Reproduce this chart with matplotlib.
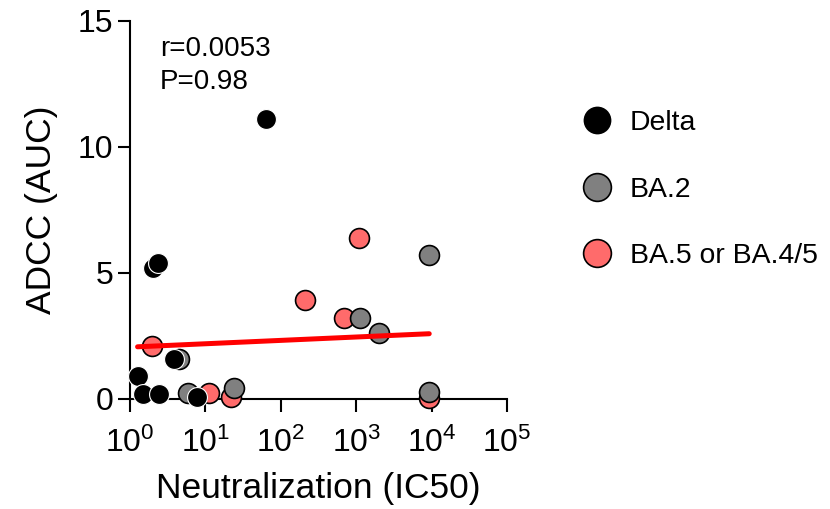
import numpy as np
import matplotlib
matplotlib.use("Agg")
import matplotlib.pyplot as plt
from matplotlib.lines import Line2D

plt.rcParams['font.family'] = ['Liberation Sans', 'DejaVu Sans']
plt.rcParams['mathtext.fontset'] = 'custom'
plt.rcParams['mathtext.rm'] = 'Liberation Sans'

# neutralization IC50 (x) vs ADCC AUC (y), per variant
delta_x = [64, 2.0, 2.35, 1.26, 1.5, 2.45, 3.84, 7.8, 9300]
delta_y = [11.1, 5.2, 5.4, 0.91, 0.2, 0.2, 1.6, 0.09, 0.08]
ba2_x = [4.5, 5.95, 24, 1125, 2000, 9200, 9100]
ba2_y = [1.57, 0.22, 0.42, 3.21, 2.6, 5.71, 0.29]
ba5_x = [1.94, 11, 22, 207, 694, 1100, 9300]
ba5_y = [2.1, 0.22, 0.09, 3.93, 3.21, 6.4, 0.03]

# linear fit in log10(x), as drawn
fit_intercept = 2.058
fit_slope = 0.134

labels = ["Delta", "BA.2", "BA.5 or BA.4/5"]
colors = ["#000000", "#808080", "#ff6b6b"]

fig = plt.figure(figsize=(8.3, 5.09), dpi=100)
ax = fig.add_axes([130/830, 1-399/509, 377/830, 378/509])

dx = np.array(delta_x); dy = np.array(delta_y)
front = dx < 1000
ms = 205
ax.scatter(dx[~front], dy[~front], s=ms, color=colors[0], edgecolor="white", linewidth=0.8, zorder=2, clip_on=False)
ax.scatter(ba5_x, ba5_y, s=ms, color=colors[2], edgecolor="black", linewidth=1.2, zorder=3, clip_on=False)
ax.scatter(ba2_x, ba2_y, s=ms, color=colors[1], edgecolor="black", linewidth=1.2, zorder=4, clip_on=False)
ax.scatter(dx[front], dy[front], s=ms, color=colors[0], edgecolor="white", linewidth=0.8, zorder=5, clip_on=False)

allx = np.array(delta_x + ba2_x + ba5_x)
fx = np.array([allx.min(), allx.max()])
ax.plot(fx, fit_intercept + fit_slope*np.log10(fx), color="#ff0000", lw=3.6, solid_capstyle="round", zorder=6)

ax.set_xscale("log")
ax.set_xlim(1, 1e5)
ax.set_ylim(0, 15)
ax.set_xticks([1, 10, 100, 1e3, 1e4, 1e5])
ax.xaxis.set_minor_locator(matplotlib.ticker.NullLocator())
ax.set_yticks([0, 5, 10, 15])

for s in ["top", "right"]:
    ax.spines[s].set_visible(False)
for s in ["left", "bottom"]:
    ax.spines[s].set_linewidth(1.5)
ax.tick_params(axis="both", length=9, width=1.5, labelsize=23)
ax.tick_params(axis="y", pad=3)
ax.tick_params(axis="x", pad=12)

ax.set_xlabel("Neutralization (IC50)", fontsize=25.5, labelpad=9)
ax.set_ylabel("ADCC (AUC)", fontsize=25.5, labelpad=14)

ax.text(0.08, 0.96, "r=0.0053\nP=0.98", transform=ax.transAxes, fontsize=20, va="top", ha="left", linespacing=1.35)

handles = [Line2D([], [], ls="none", marker="o", markersize=20, markerfacecolor=c,
                  markeredgecolor="black", markeredgewidth=1.2 if i else 0)
           for i, c in enumerate(colors)]
fig.legend(handles, labels, loc="upper left", bbox_to_anchor=(570/830, 1-99/509),
           frameon=False, fontsize=20.4, labelspacing=1.42, handletextpad=0.6,
           borderaxespad=0, handlelength=1.1)

fig.savefig("out.png", dpi=100)
